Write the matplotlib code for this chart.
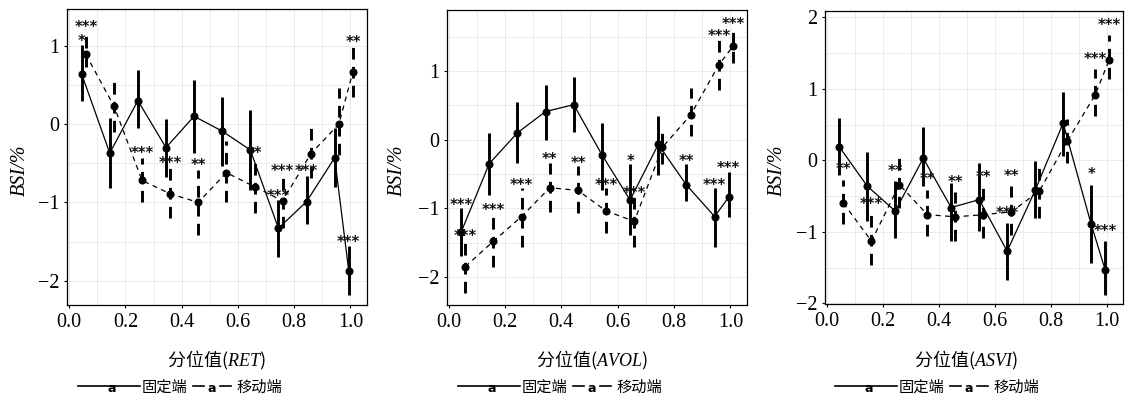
import matplotlib
matplotlib.use("Agg")
import matplotlib.pyplot as plt
from matplotlib.lines import Line2D
import numpy as np

plt.rcParams['mathtext.fontset'] = 'custom'
plt.rcParams['mathtext.it'] = 'Liberation Serif:italic'
plt.rcParams['mathtext.rm'] = 'Liberation Serif'
plt.rcParams['font.family'] = ['Liberation Serif', 'DejaVu Sans']

# ---------------- data ----------------
tau = [0.05, 0.15, 0.25, 0.35, 0.45, 0.55, 0.65, 0.75, 0.85, 0.95, 1.0]
xnames = ["RET", "AVOL", "ASVI"]
series_names = ["固定端", "移动端"]

# Panel 1: RET
ret_fix = [0.64, -0.37, 0.30, -0.30, 0.10, -0.09, -0.33, -1.33, -0.99, -0.43, -1.87]
ret_fix_lo = [0.29, -0.81, -0.05, -0.68, -0.37, -0.54, -0.84, -1.70, -1.27, -0.80, -2.18]
ret_fix_hi = [1.01, 0.08, 0.69, 0.06, 0.56, 0.35, 0.18, -0.97, -0.66, -0.05, -1.56]
ret_fix_sig = ['*', '', '', '', '', '', '', '***', '***', '', '***']
ret_mov = [0.89, 0.23, -0.72, -0.89, -1.00, -0.62, -0.80, -0.98, -0.38, 0.00, 0.67]
ret_mov_lo = [0.73, -0.10, -0.99, -1.20, -1.41, -0.99, -1.14, -1.33, -0.69, -0.40, 0.35]
ret_mov_hi = [1.18, 0.58, -0.43, -0.56, -0.58, -0.22, -0.43, -0.65, -0.03, 0.46, 0.99]
ret_mov_sig = ['***', '', '***', '***', '**', '', '**', '***', '', '', '**']

# Panel 2: AVOL
avol_fix = [-1.35, -0.35, 0.10, 0.41, 0.51, -0.22, -0.88, -0.07, -0.66, -1.12, -0.84]
avol_fix_lo = [-1.70, -0.80, -0.34, 0.00, 0.11, -0.73, -1.39, -0.51, -0.90, -1.56, -1.13]
avol_fix_hi = [-1.00, 0.10, 0.55, 0.80, 0.91, 0.24, -0.36, 0.34, -0.36, -0.71, -0.47]
avol_fix_sig = ['***', '', '', '', '', '', '*', '', '**', '***', '***']
avol_mov = [-1.85, -1.48, -1.12, -0.70, -0.74, -1.04, -1.19, -0.11, 0.36, 1.09, 1.36]
avol_mov_lo = [-2.24, -1.85, -1.56, -1.05, -1.07, -1.36, -1.56, -0.36, 0.05, 0.73, 1.12]
avol_mov_hi = [-1.45, -1.07, -0.71, -0.34, -0.39, -0.71, -0.83, 0.17, 0.75, 1.46, 1.63]
avol_mov_sig = ['***', '***', '***', '**', '**', '***', '***', '', '', '***', '***']

# Panel 3: ASVI
asvi_fix = [0.19, -0.36, -0.71, 0.03, -0.66, -0.55, -1.27, -0.42, 0.52, -0.89, -1.53]
asvi_fix_lo = [-0.20, -0.85, -1.08, -0.36, -1.13, -0.99, -1.67, -0.81, 0.06, -1.44, -1.88]
asvi_fix_hi = [0.59, 0.11, -0.29, 0.47, -0.31, -0.03, -0.88, -0.01, 0.95, -0.34, -1.13]
asvi_fix_sig = ['', '', '**', '', '', '', '***', '', '', '*', '***']
asvi_mov = [-0.60, -1.13, -0.34, -0.76, -0.79, -0.76, -0.72, -0.43, 0.27, 0.92, 1.41]
asvi_mov_lo = [-0.89, -1.46, -0.67, -1.06, -1.13, -1.09, -1.04, -0.81, -0.03, 0.62, 1.14]
asvi_mov_hi = [-0.27, -0.76, 0.04, -0.41, -0.44, -0.38, -0.36, -0.03, 0.58, 1.28, 1.75]
asvi_mov_sig = ['**', '***', '', '**', '**', '**', '**', '', '', '***', '***']

panels = [
    (ret_fix, ret_fix_lo, ret_fix_hi, ret_fix_sig, ret_mov, ret_mov_lo, ret_mov_hi, ret_mov_sig),
    (avol_fix, avol_fix_lo, avol_fix_hi, avol_fix_sig, avol_mov, avol_mov_lo, avol_mov_hi, avol_mov_sig),
    (asvi_fix, asvi_fix_lo, asvi_fix_hi, asvi_fix_sig, asvi_mov, asvi_mov_lo, asvi_mov_hi, asvi_mov_sig),
]

# ---------------- layout / style ----------------
W, H = 1126, 403
fig = plt.figure(figsize=(W / 100, H / 100), dpi=100)

ax_px = [(67.3, 9, 366.7, 305), (446.7, 10, 746.7, 305), (825, 11, 1123, 304)]
ylims = [(-2.31, 1.47), (-2.41, 1.89), (-2.01, 2.09)]
yticks = [[-2, -1, 0, 1], [-2, -1, 0, 1], [-2, -1, 0, 1, 2]]
star_off = [0.10, 0.10, 0.19]
xlabel_cx = [216, 592, 966]
ylabel_cx = [20, 397, 777]
legend_x0 = [78, 458, 835]
dx_fix, dx_mov = -0.006, 0.009

def fx(px):
    return px / W

def fy(py):
    return 1 - py / H

CJK = ['Noto Sans CJK SC', 'DejaVu Sans']

for i, (pdat, (l, t, r, b)) in enumerate(zip(panels, ax_px)):
    fm, flo, fhi, fsig, mm, mlo, mhi, msig = pdat
    ax = fig.add_axes([l / W, 1 - b / H, (r - l) / W, (b - t) / H])
    xf = np.array(tau) + dx_fix
    xm = np.array(tau) + dx_mov

    # error bars
    ax.vlines(xf, flo, fhi, colors='black', linewidth=2.1, zorder=3)
    ax.vlines(xm, mlo, mhi, colors='black', linewidth=2.1,
              linestyles=[(0, (4, 2.5))], zorder=3)
    # lines + points
    ax.plot(xf, fm, color='black', lw=0.9, marker='o', ms=4.8, zorder=4)
    ax.plot(xm, mm, color='black', lw=0.9, ls=(0, (4, 3.5)), marker='o', ms=4.8, zorder=4)

    # significance stars
    for xs, his, sigs in ((xf, fhi, fsig), (xm, mhi, msig)):
        for xx, hi, s in zip(xs, his, sigs):
            if s:
                ax.annotate(s, xy=(xx, hi + star_off[i]), xytext=(0, -6.0),
                            textcoords='offset points', ha='center', va='baseline',
                            fontsize=10.5, fontweight='bold', family='DejaVu Sans',
                            color='#111111', zorder=5)

    ax.set_xlim(-0.007, 1.058)
    ax.set_ylim(*ylims[i])
    ax.set_xticks([0.0, 0.2, 0.4, 0.6, 0.8, 1.0])
    ax.set_xticklabels(['0.0', '0.2', '0.4', '0.6', '0.8', '1.0'])
    ax.set_xticks([0.1, 0.3, 0.5, 0.7, 0.9], minor=True)
    ax.set_yticks(yticks[i])
    ax.set_yticklabels([('\u2212%d' % -v) if v < 0 else '%d' % v for v in yticks[i]])
    ymin, ymax = ylims[i]
    ax.set_yticks([v + 0.5 for v in range(-3, 3) if ymin < v + 0.5 < ymax], minor=True)
    ax.grid(which='both', color='#e8e8e8', lw=0.6)
    ax.set_axisbelow(True)
    ax.tick_params(which='major', direction='out', length=2.5, width=0.8, pad=3,
                   labelsize=14.5, colors='black')
    ax.tick_params(which='minor', length=0)
    for sp in ax.spines.values():
        sp.set_linewidth(0.9)
        sp.set_color('black')

    # axis titles
    fig.text(fx(ylabel_cx[i]), fy(170), 'BSI/%', rotation=90, ha='center', va='center',
             fontsize=14.5, fontstyle='italic', family='Liberation Serif')
    fig.text(fx(xlabel_cx[i]), fy(360), '分位值($\\mathit{%s}$)' % xnames[i],
             ha='center', va='center', fontsize=13, family=CJK)

    # legend (drawn by hand)
    x0 = legend_x0[i]
    ly = 386
    fig.add_artist(Line2D([fx(x0), fx(x0 + 62)], [fy(ly), fy(ly)], color='black', lw=1.2))
    fig.text(fx(x0 + 34), fy(ly + 3), 'a', ha='center', va='center', fontsize=9,
             fontweight='bold', family='DejaVu Sans')
    fig.text(fx(x0 + 64), fy(ly + 1), series_names[0], ha='left', va='center',
             fontsize=11, family=CJK)
    fig.add_artist(Line2D([fx(x0 + 115), fx(x0 + 126)], [fy(ly), fy(ly)], color='black', lw=1.2))
    fig.add_artist(Line2D([fx(x0 + 142), fx(x0 + 153)], [fy(ly), fy(ly)], color='black', lw=1.2))
    fig.text(fx(x0 + 134), fy(ly + 3), 'a', ha='center', va='center', fontsize=9,
             fontweight='bold', family='DejaVu Sans')
    fig.text(fx(x0 + 158), fy(ly + 1), series_names[1], ha='left', va='center',
             fontsize=11, family=CJK)

fig.savefig('out.png', dpi=100)
